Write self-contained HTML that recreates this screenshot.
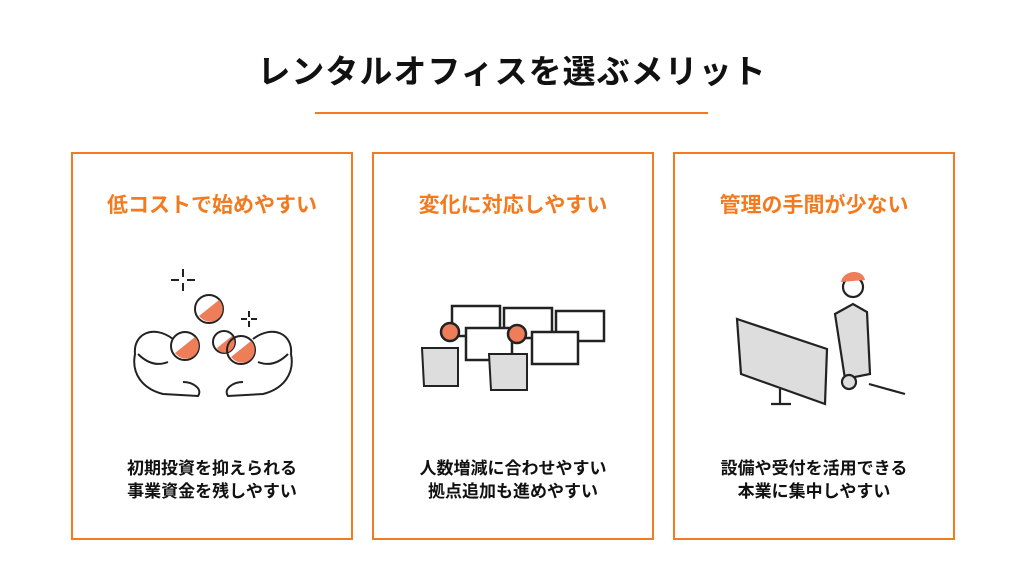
<!DOCTYPE html>
<html><head><meta charset="utf-8"><style>
body{margin:0;width:1024px;height:576px;background:#fff;position:relative;overflow:hidden;font-family:"Liberation Sans","Noto Sans CJK JP",sans-serif}
.t{position:absolute;top:45px;left:0;width:1024px;text-align:center;font-size:33px;font-weight:bold;color:#111;letter-spacing:1px}
.ln{position:absolute;left:315px;top:112px;width:393px;height:2px;background:#f47a1f}
.b{position:absolute;top:152px;width:278px;height:384px;border:2px solid #f47a1f}
.h{position:absolute;top:35px;width:100%;text-align:center;color:#f47a1f;font-size:21px;font-weight:bold}
.c{position:absolute;top:303px;width:100%;text-align:center;color:#111;font-size:17px;font-weight:bold;line-height:23px}
svg{position:absolute;left:0;top:100px}
</style></head><body>
<div class="t">レンタルオフィスを選ぶメリット</div>
<div class="ln"></div>
<div class="b" style="left:71px"><div class="h">低コストで始めやすい</div>
<svg width="278" height="170" viewBox="0 0 278 170" fill="none" stroke="#222" stroke-width="2">
<path d="M110 15v8M110 29v8M98 26h8M114 26h8M176 57v6M176 67v6M168 65h6M178 65h6"/>
<circle cx="136" cy="55" r="14"/><path d="M126 62 L146 46 A12 12 0 0 1 128 64Z" fill="#ee7d5a" stroke="none"/>
<circle cx="151" cy="88" r="11"/><path d="M144 94 L159 82 A10 10 0 0 1 146 97Z" fill="#ee7d5a" stroke="none"/>
<circle cx="112" cy="92" r="14"/><path d="M102 99 L122 83 A12 12 0 0 1 104 101Z" fill="#ee7d5a" stroke="none"/>
<circle cx="168" cy="96" r="14"/><path d="M158 103 L178 87 A12 12 0 0 1 160 105Z" fill="#ee7d5a" stroke="none"/>
<path d="M100 85 C80 70 60 80 62 100 C58 120 70 135 90 140 L125 142 C130 135 120 128 110 128 M65 100 C75 110 85 112 95 108"/>
<path d="M180 85 C200 70 220 80 218 100 C222 120 210 135 190 140 L155 142 C150 135 160 128 170 128 M215 100 C205 110 195 112 185 108"/>
</svg>
<div class="c">初期投資を抑えられる<br>事業資金を残しやすい</div></div>
<div class="b" style="left:372px"><div class="h">変化に対応しやすい</div>
<svg width="278" height="170" viewBox="0 0 278 170" fill="none" stroke="#222" stroke-width="2.5">
<rect x="78" y="52" width="48" height="30"/><rect x="130" y="54" width="48" height="30"/><rect x="182" y="57" width="48" height="30"/>
<rect x="92" y="74" width="46" height="32" fill="#fff"/><rect x="158" y="78" width="46" height="32" fill="#fff"/>
<circle cx="76" cy="78" r="9" fill="#ee7d5a"/><circle cx="143" cy="80" r="9" fill="#ee7d5a"/>
<path d="M48 94h36v38h-34z" fill="#ddd" stroke-width="2"/><path d="M115 100h38v36h-36z" fill="#ddd" stroke-width="2"/>
</svg>
<div class="c">人数増減に合わせやすい<br>拠点追加も進めやすい</div></div>
<div class="b" style="left:673px"><div class="h">管理の手間が少ない</div>
<svg width="278" height="170" viewBox="0 0 278 170" fill="none" stroke="#222" stroke-width="2.2">
<circle cx="178" cy="33" r="10" fill="#fff"/><path d="M166 28 C168 16 188 14 190 26Z" fill="#ee7d5a" stroke="none"/>
<path d="M160 60 L178 50 L192 58 L195 120 L170 125 Z" fill="#ddd"/>
<path d="M194 130 L230 140"/>
<path d="M62 65 L152 95 L150 150 L66 120 Z" fill="#ddd"/>
<path d="M105 135 v15 M96 150 h20"/><circle cx="174" cy="128" r="7" fill="#ddd"/>
</svg>
<div class="c">設備や受付を活用できる<br>本業に集中しやすい</div></div>
</body></html>
